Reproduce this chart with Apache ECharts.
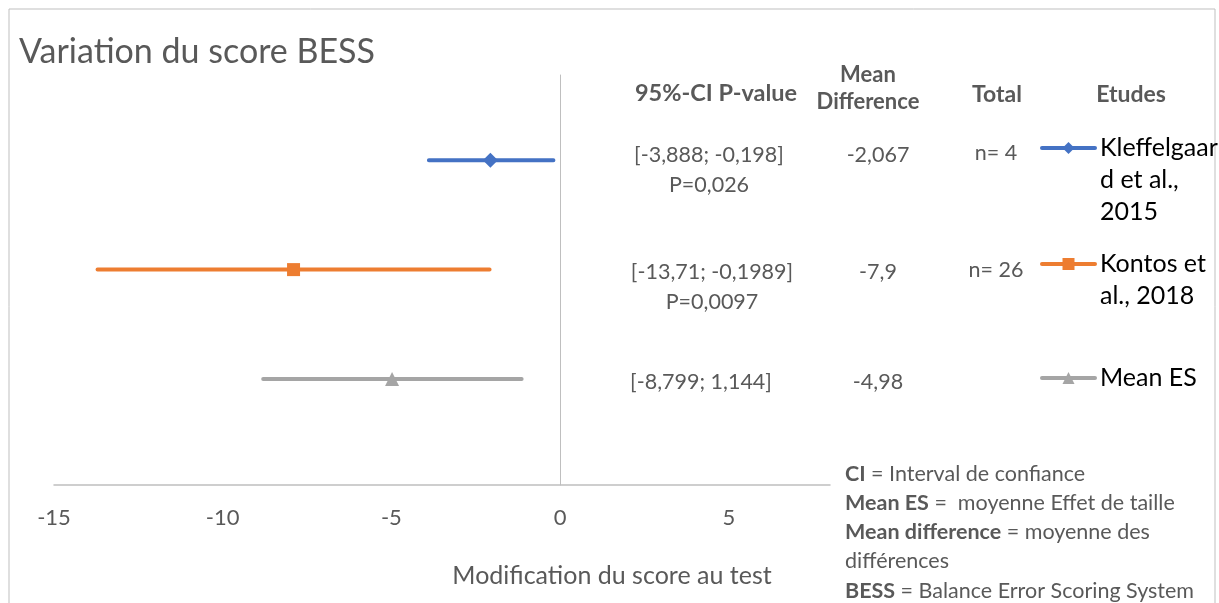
<!DOCTYPE html>
<html>
<head>
<meta charset="utf-8">
<script src="https://cdn.jsdelivr.net/npm/echarts@6/dist/echarts.min.js"></script>
<style>
  html, body { margin: 0; padding: 0; background: #fff; }
  #main { width: 1219px; height: 603px; }
</style>
</head>
<body>
<div id="main"></div>
<script>
// Forest plot data
const studies = ['Kleffelgaard et al., 2015', 'Kontos et al., 2018', 'Mean ES'];
// leading blank lines keep the legend icon level with the first text line
const legendLabels = ['\n\nKleffelgaar\nd et al.,\n2015', '\nKontos et\nal., 2018', 'Mean ES'];
const rows = [2.97, 1.97, 0.97];
const means = [-2.067, -7.9, -4.98];
const ciLow = [-3.888, -13.71, -8.8];
const ciHigh = [-0.198, -2.09, -1.14];
const ciText = ['[-3,888; -0,198]', '[-13,71; -0,1989]', '[-8,799; 1,144]'];
const pText = ['P=0,026', 'P=0,0097', ''];
const mdText = ['-2,067', '-7,9', '-4,98'];
const totals = ['n= 4', 'n= 26', ''];
const colors = ['#4472C4', '#ED7D31', '#A5A5A5'];
const symbols = ['diamond', 'rect', 'triangle'];
const symbolSizes = [15, 13, 14];
const legendTops = [68, 216, 362];
// text boxes sit slightly off the marks in the original
const textShift = [-5, 2, 3];
const ciX = [709, 712, 701];

const FONT = 'Lato, "Open Sans", sans-serif';
const GREY = '#595959';

const chart = echarts.init(document.getElementById('main'));

const series = studies.map((name, i) => ({
  name: name,
  type: 'line',
  symbol: symbols[i],
  symbolSize: symbolSizes[i],
  showAllSymbol: true,
  color: colors[i],
  lineStyle: { width: 4, cap: 'round' },
  emphasis: { disabled: true },
  data: [
    { value: [ciLow[i], rows[i]], symbol: 'none' },
    { value: [means[i], rows[i]] },
    { value: [ciHigh[i], rows[i]], symbol: 'none' }
  ]
}));

const legends = studies.map((name, i) => ({
  data: [name],
  left: 1040,
  top: legendTops[i],
  padding: 0,
  itemWidth: 53,
  itemHeight: 15,
  itemGap: 0,
  selectedMode: false,
  lineStyle: { width: 4 },
  formatter: () => legendLabels[i],
  textStyle: {
    fontFamily: FONT,
    fontSize: 25,
    lineHeight: 32,
    color: '#000'
  }
}));

const option = {
  backgroundColor: '#fff',
  animation: false,
  grid: { left: 54, right: 389, top: 75, bottom: 118 },
  xAxis: {
    type: 'value',
    min: -15,
    max: 8,
    interval: 5,
    splitLine: { show: false },
    axisTick: { show: false },
    axisLine: { lineStyle: { color: '#bfbfbf', width: 1.5 } },
    axisLabel: {
      fontFamily: FONT,
      fontSize: 22,
      color: GREY,
      margin: 22,
      showMaxLabel: false
    }
  },
  yAxis: {
    type: 'value',
    min: 0,
    max: 3.75,
    splitLine: { show: false },
    axisTick: { show: false },
    axisLabel: { show: false },
    axisLine: { show: true, lineStyle: { color: '#bfbfbf', width: 1 } }
  },
  legend: legends,
  series: series
};

chart.setOption(option);

// Text table next to the plot, aligned on the study rows
const textStyle = (extra) => Object.assign({
  fontFamily: FONT,
  fontSize: 21.5,
  fill: GREY,
  align: 'center',
  verticalAlign: 'middle'
}, extra);

const elements = [
  {
    type: 'rect',
    shape: { x: 9, y: 9, width: 1206, height: 620 },
    style: { fill: 'none', stroke: '#bfbfbf', lineWidth: 1 },
    silent: true
  },
  {
    type: 'text', left: 19, top: 35,
    style: { text: 'Variation du score BESS', fontFamily: FONT, fontSize: 34, fill: GREY }
  },
  {
    type: 'text', x: 612, y: 576,
    style: textStyle({ text: 'Modification du score au test', fontSize: 25 })
  },
  {
    type: 'text', x: 716, y: 93,
    style: textStyle({ text: '95%-CI P-value', fontWeight: 'bold', fontSize: 23.5 })
  },
  {
    type: 'text', x: 868, y: 88,
    style: textStyle({ text: 'Mean\nDifference', fontWeight: 'bold', fontSize: 22, lineHeight: 27 })
  },
  {
    type: 'text', x: 997, y: 95,
    style: textStyle({ text: 'Total', fontWeight: 'bold', fontSize: 23 })
  },
  {
    type: 'text', x: 1131, y: 95,
    style: textStyle({ text: 'Etudes', fontWeight: 'bold', fontSize: 23 })
  },
  {
    type: 'text', left: 845, top: 459,
    style: {
      text: '{b|CI} = Interval de confiance\n{b|Mean ES} =  moyenne Effet de taille\n{b|Mean difference} = moyenne des\ndifférences\n{b|BESS} = Balance Error Scoring System',
      fontFamily: FONT,
      fontSize: 21.5,
      lineHeight: 29.3,
      fill: GREY,
      rich: {
        b: { fontFamily: FONT, fontSize: 21.5, fontWeight: 'bold', fill: GREY, lineHeight: 29.3 }
      }
    }
  }
];

studies.forEach((name, i) => {
  const py = chart.convertToPixel({ yAxisIndex: 0 }, rows[i]) + textShift[i];
  elements.push({
    type: 'text', x: ciX[i], y: py,
    style: textStyle({ text: ciText[i] })
  });
  if (pText[i]) {
    elements.push({
      type: 'text', x: ciX[i], y: py + 30,
      style: textStyle({ text: pText[i] })
    });
  }
  elements.push({
    type: 'text', x: 878, y: py,
    style: textStyle({ text: mdText[i] })
  });
  if (totals[i]) {
    elements.push({
      type: 'text', x: 996, y: py - 2,
      style: textStyle({ text: totals[i] })
    });
  }
});

chart.setOption({ graphic: { elements: elements } });
</script>
</body>
</html>
